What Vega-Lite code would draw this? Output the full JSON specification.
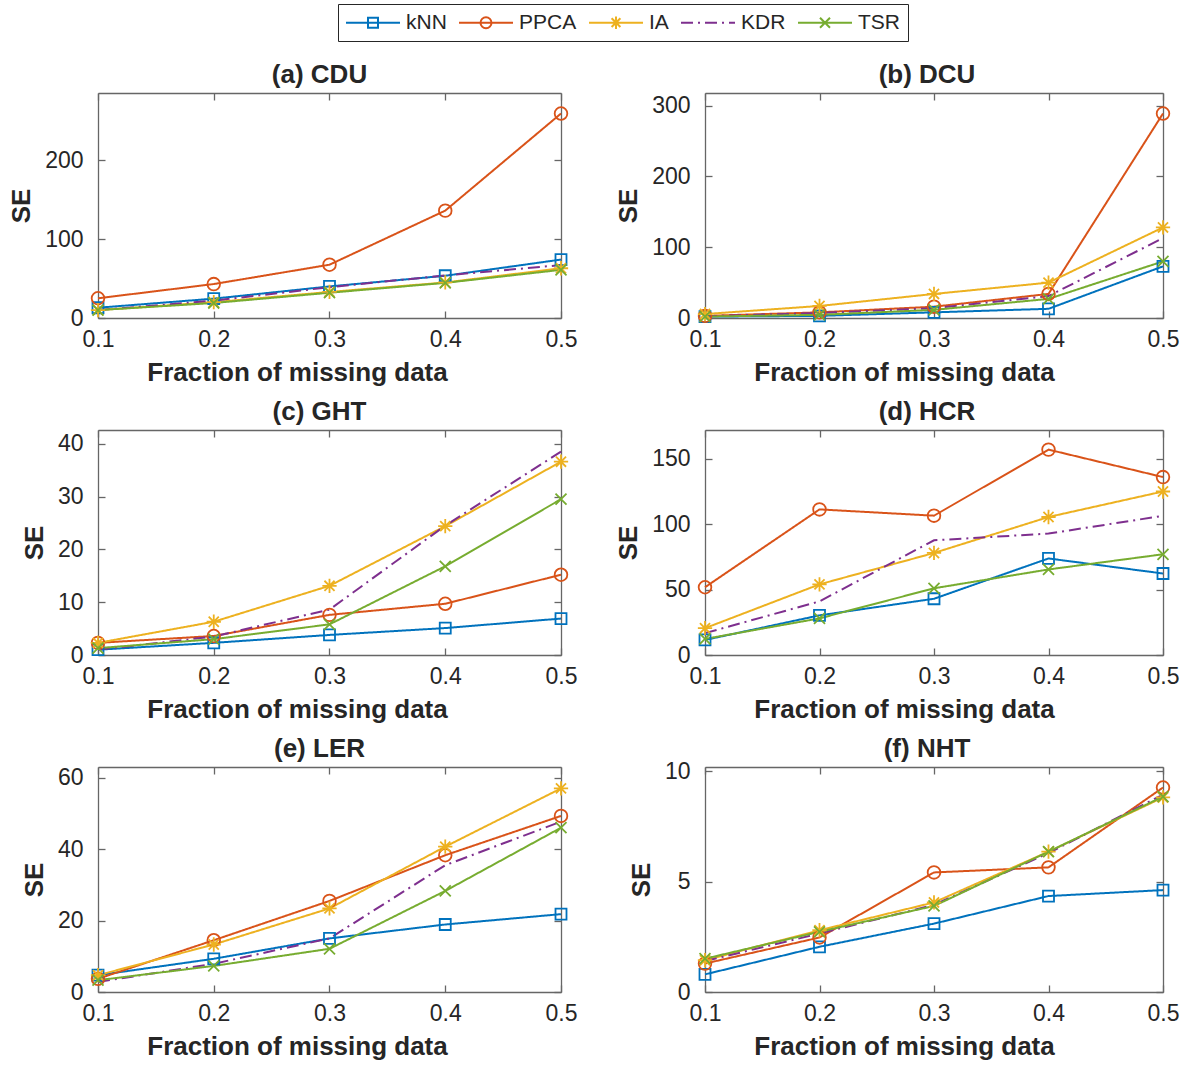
{
"$schema": "https://vega.github.io/schema/vega-lite/v6.json",
"padding": {"left": 8, "top": 3, "right": 5, "bottom": 3},
"background": "white",
"data": {"values": [
{"p":"a","m":"kNN","x":0.1,"y":13},{"p":"a","m":"kNN","x":0.2,"y":24.5},{"p":"a","m":"kNN","x":0.3,"y":40},{"p":"a","m":"kNN","x":0.4,"y":53.5},{"p":"a","m":"kNN","x":0.5,"y":74},
{"p":"a","m":"PPCA","x":0.1,"y":25},{"p":"a","m":"PPCA","x":0.2,"y":43},{"p":"a","m":"PPCA","x":0.3,"y":67.5},{"p":"a","m":"PPCA","x":0.4,"y":136},{"p":"a","m":"PPCA","x":0.5,"y":259},
{"p":"a","m":"IA","x":0.1,"y":10},{"p":"a","m":"IA","x":0.2,"y":20},{"p":"a","m":"IA","x":0.3,"y":33},{"p":"a","m":"IA","x":0.4,"y":45},{"p":"a","m":"IA","x":0.5,"y":63},
{"p":"a","m":"KDR","x":0.1,"y":10},{"p":"a","m":"KDR","x":0.2,"y":22},{"p":"a","m":"KDR","x":0.3,"y":39},{"p":"a","m":"KDR","x":0.4,"y":54},{"p":"a","m":"KDR","x":0.5,"y":67},
{"p":"a","m":"TSR","x":0.1,"y":10},{"p":"a","m":"TSR","x":0.2,"y":19},{"p":"a","m":"TSR","x":0.3,"y":32},{"p":"a","m":"TSR","x":0.4,"y":44.5},{"p":"a","m":"TSR","x":0.5,"y":61},
{"p":"b","m":"kNN","x":0.1,"y":2},{"p":"b","m":"kNN","x":0.2,"y":3},{"p":"b","m":"kNN","x":0.3,"y":8},{"p":"b","m":"kNN","x":0.4,"y":13},{"p":"b","m":"kNN","x":0.5,"y":73},
{"p":"b","m":"PPCA","x":0.1,"y":3},{"p":"b","m":"PPCA","x":0.2,"y":8},{"p":"b","m":"PPCA","x":0.3,"y":16},{"p":"b","m":"PPCA","x":0.4,"y":34},{"p":"b","m":"PPCA","x":0.5,"y":289},
{"p":"b","m":"IA","x":0.1,"y":5.6},{"p":"b","m":"IA","x":0.2,"y":17},{"p":"b","m":"IA","x":0.3,"y":34},{"p":"b","m":"IA","x":0.4,"y":50},{"p":"b","m":"IA","x":0.5,"y":128},
{"p":"b","m":"KDR","x":0.1,"y":2.5},{"p":"b","m":"KDR","x":0.2,"y":7},{"p":"b","m":"KDR","x":0.3,"y":14},{"p":"b","m":"KDR","x":0.4,"y":31},{"p":"b","m":"KDR","x":0.5,"y":113},
{"p":"b","m":"TSR","x":0.1,"y":2},{"p":"b","m":"TSR","x":0.2,"y":4.5},{"p":"b","m":"TSR","x":0.3,"y":11.5},{"p":"b","m":"TSR","x":0.4,"y":27},{"p":"b","m":"TSR","x":0.5,"y":80},
{"p":"c","m":"kNN","x":0.1,"y":1.0},{"p":"c","m":"kNN","x":0.2,"y":2.3},{"p":"c","m":"kNN","x":0.3,"y":3.8},{"p":"c","m":"kNN","x":0.4,"y":5.1},{"p":"c","m":"kNN","x":0.5,"y":6.9},
{"p":"c","m":"PPCA","x":0.1,"y":2.3},{"p":"c","m":"PPCA","x":0.2,"y":3.6},{"p":"c","m":"PPCA","x":0.3,"y":7.6},{"p":"c","m":"PPCA","x":0.4,"y":9.7},{"p":"c","m":"PPCA","x":0.5,"y":15.2},
{"p":"c","m":"IA","x":0.1,"y":2.3},{"p":"c","m":"IA","x":0.2,"y":6.3},{"p":"c","m":"IA","x":0.3,"y":13.1},{"p":"c","m":"IA","x":0.4,"y":24.4},{"p":"c","m":"IA","x":0.5,"y":36.6},
{"p":"c","m":"KDR","x":0.1,"y":1.0},{"p":"c","m":"KDR","x":0.2,"y":3.5},{"p":"c","m":"KDR","x":0.3,"y":8.6},{"p":"c","m":"KDR","x":0.4,"y":24.5},{"p":"c","m":"KDR","x":0.5,"y":38.5},
{"p":"c","m":"TSR","x":0.1,"y":1.3},{"p":"c","m":"TSR","x":0.2,"y":3.0},{"p":"c","m":"TSR","x":0.3,"y":5.8},{"p":"c","m":"TSR","x":0.4,"y":16.8},{"p":"c","m":"TSR","x":0.5,"y":29.5},
{"p":"d","m":"kNN","x":0.1,"y":11.5},{"p":"d","m":"kNN","x":0.2,"y":30.3},{"p":"d","m":"kNN","x":0.3,"y":43},{"p":"d","m":"kNN","x":0.4,"y":73.8},{"p":"d","m":"kNN","x":0.5,"y":62.3},
{"p":"d","m":"PPCA","x":0.1,"y":51.8},{"p":"d","m":"PPCA","x":0.2,"y":111.3},{"p":"d","m":"PPCA","x":0.3,"y":106.5},{"p":"d","m":"PPCA","x":0.4,"y":157},{"p":"d","m":"PPCA","x":0.5,"y":136},
{"p":"d","m":"IA","x":0.1,"y":20.5},{"p":"d","m":"IA","x":0.2,"y":54},{"p":"d","m":"IA","x":0.3,"y":78},{"p":"d","m":"IA","x":0.4,"y":105.5},{"p":"d","m":"IA","x":0.5,"y":125},
{"p":"d","m":"KDR","x":0.1,"y":16.7},{"p":"d","m":"KDR","x":0.2,"y":41},{"p":"d","m":"KDR","x":0.3,"y":87.7},{"p":"d","m":"KDR","x":0.4,"y":92.8},{"p":"d","m":"KDR","x":0.5,"y":106.4},
{"p":"d","m":"TSR","x":0.1,"y":12.3},{"p":"d","m":"TSR","x":0.2,"y":28},{"p":"d","m":"TSR","x":0.3,"y":51},{"p":"d","m":"TSR","x":0.4,"y":65.4},{"p":"d","m":"TSR","x":0.5,"y":77},
{"p":"e","m":"kNN","x":0.1,"y":4.7},{"p":"e","m":"kNN","x":0.2,"y":9.3},{"p":"e","m":"kNN","x":0.3,"y":15},{"p":"e","m":"kNN","x":0.4,"y":18.9},{"p":"e","m":"kNN","x":0.5,"y":21.8},
{"p":"e","m":"PPCA","x":0.1,"y":3.7},{"p":"e","m":"PPCA","x":0.2,"y":14.5},{"p":"e","m":"PPCA","x":0.3,"y":25.5},{"p":"e","m":"PPCA","x":0.4,"y":38.3},{"p":"e","m":"PPCA","x":0.5,"y":49.3},
{"p":"e","m":"IA","x":0.1,"y":4.7},{"p":"e","m":"IA","x":0.2,"y":13.3},{"p":"e","m":"IA","x":0.3,"y":23.4},{"p":"e","m":"IA","x":0.4,"y":40.7},{"p":"e","m":"IA","x":0.5,"y":57},
{"p":"e","m":"KDR","x":0.1,"y":2.8},{"p":"e","m":"KDR","x":0.2,"y":7.9},{"p":"e","m":"KDR","x":0.3,"y":15},{"p":"e","m":"KDR","x":0.4,"y":35.5},{"p":"e","m":"KDR","x":0.5,"y":47.7},
{"p":"e","m":"TSR","x":0.1,"y":3.3},{"p":"e","m":"TSR","x":0.2,"y":7.3},{"p":"e","m":"TSR","x":0.3,"y":12.1},{"p":"e","m":"TSR","x":0.4,"y":28.3},{"p":"e","m":"TSR","x":0.5,"y":46},
{"p":"f","m":"kNN","x":0.1,"y":0.8},{"p":"f","m":"kNN","x":0.2,"y":2.05},{"p":"f","m":"kNN","x":0.3,"y":3.1},{"p":"f","m":"kNN","x":0.4,"y":4.35},{"p":"f","m":"kNN","x":0.5,"y":4.62},
{"p":"f","m":"PPCA","x":0.1,"y":1.29},{"p":"f","m":"PPCA","x":0.2,"y":2.47},{"p":"f","m":"PPCA","x":0.3,"y":5.42},{"p":"f","m":"PPCA","x":0.4,"y":5.65},{"p":"f","m":"PPCA","x":0.5,"y":9.27},
{"p":"f","m":"IA","x":0.1,"y":1.44},{"p":"f","m":"IA","x":0.2,"y":2.8},{"p":"f","m":"IA","x":0.3,"y":4.06},{"p":"f","m":"IA","x":0.4,"y":6.36},{"p":"f","m":"IA","x":0.5,"y":8.82},
{"p":"f","m":"KDR","x":0.1,"y":1.4},{"p":"f","m":"KDR","x":0.2,"y":2.65},{"p":"f","m":"KDR","x":0.3,"y":3.95},{"p":"f","m":"KDR","x":0.4,"y":6.3},{"p":"f","m":"KDR","x":0.5,"y":8.95},
{"p":"f","m":"TSR","x":0.1,"y":1.51},{"p":"f","m":"TSR","x":0.2,"y":2.73},{"p":"f","m":"TSR","x":0.3,"y":3.9},{"p":"f","m":"TSR","x":0.4,"y":6.36},{"p":"f","m":"TSR","x":0.5,"y":8.86}
]},
"vconcat": [
{
 "width": 1100, "height": 1,
 "transform": [{"filter": "datum.p == 'a' && datum.x == 0.1"}],
 "mark": {"type": "point", "filled": false, "opacity": 0, "size": 100},
 "encoding": {
  "color": {"field": "m", "type": "nominal", "scale": {"domain": ["kNN","PPCA","IA","KDR","TSR"], "range": ["#0072BD","#D95319","#EDB120","#7E2F8E","#77AC30"]},
   "legend": {"orient": "none", "legendX": 240, "legendY": -5, "direction": "horizontal", "title": null, "symbolOpacity": 1, "symbolStrokeWidth": 2, "symbolFillColor": "transparent", "symbolSize": 100, "labelFontSize": 21, "labelFont": "Liberation Sans", "labelColor": "#262626", "labelOffset": 39, "columnPadding": 8, "padding": 8, "strokeColor": "#262626", "fillColor": "white"}},
  "shape": {"field": "m", "type": "nominal", "scale": {"domain": ["kNN","PPCA","IA","KDR","TSR"], "range": [
    "M-2.1,0L8.7,0M2.3,-1L4.3,-1L4.3,1L2.3,1Z",
    "M-2.1,0L8.7,0M4.4,0A1.1,1.1 0 1,1 2.2,0A1.1,1.1 0 1,1 4.4,0Z",
    "M-2.1,0L8.7,0M3.3,-1.25L3.3,1.25M2.42,-0.88L4.18,0.88M2.42,0.88L4.18,-0.88",
    "M-2.1,0L0.3,0M1.3,0L1.7,0M2.7,0L5.1,0M6.1,0L6.5,0M7.5,0L8.7,0",
    "M-2.1,0L8.7,0M2.3,-1L4.3,1M2.3,1L4.3,-1"]},
   "legend": {"orient": "none", "legendX": 240, "legendY": -5, "direction": "horizontal", "title": null, "symbolOpacity": 1, "symbolStrokeWidth": 2, "symbolFillColor": "transparent", "symbolSize": 100, "labelFontSize": 21, "labelFont": "Liberation Sans", "labelColor": "#262626", "labelOffset": 39, "columnPadding": 8, "padding": 8, "strokeColor": "#262626", "fillColor": "white"}}
 }
},
{
 "columns": 2,
 "spacing": {"row": 14, "column": 38},
 "concat": [
  {"title": {"text": "(a) CDU", "frame": "group", "dx": -10}, "width": 463, "height": 225,
   "transform": [{"filter": "datum.p == 'a'"}],
   "layer": [
    {"mark": {"type": "line", "strokeWidth": 2}, "encoding": {
      "x": {"field": "x", "type": "quantitative", "scale": {"domain": [0.1, 0.5], "nice": false}, "axis": {"values": [0.1,0.2,0.3,0.4,0.5], "format": ".1f", "title": "Fraction of missing data", "titleX": 199}},
      "y": {"field": "y", "type": "quantitative", "scale": {"domain": [0, 285], "nice": false}, "axis": {"values": [0,100,200], "title": "SE"}},
      "color": {"field": "m", "type": "nominal", "scale": {"domain": ["kNN","PPCA","IA","KDR","TSR"], "range": ["#0072BD","#D95319","#EDB120","#7E2F8E","#77AC30"]}, "legend": null},
      "strokeDash": {"field": "m", "type": "nominal", "scale": {"domain": ["kNN","PPCA","IA","KDR","TSR"], "range": [[1,0],[1,0],[1,0],[12,5,2,5],[1,0]]}, "legend": null}}},
    {"mark": {"type": "point", "filled": false, "size": 121, "strokeWidth": 1.8, "opacity": 1}, "encoding": {
      "x": {"field": "x", "type": "quantitative", "axis": {"orient": "top", "labels": false, "title": null, "values": [0.1,0.2,0.3,0.4,0.5]}},
      "y": {"field": "y", "type": "quantitative", "axis": {"orient": "right", "labels": false, "title": null, "values": [0,100,200]}},
      "color": {"field": "m", "type": "nominal", "legend": null},
      "shape": {"field": "m", "type": "nominal", "scale": {"domain": ["kNN","PPCA","IA","KDR","TSR"], "range": ["M-1,-1L1,-1L1,1L-1,1Z","M1.15,0A1.15,1.15 0 1,1 -1.15,0A1.15,1.15 0 1,1 1.15,0Z","M0,-1.3L0,1.3M-1.3,0L1.3,0M-0.92,-0.92L0.92,0.92M-0.92,0.92L0.92,-0.92","M0,0","M-1,-1L1,1M-1,1L1,-1"]}, "legend": null}}}
   ],
   "resolve": {"axis": {"x": "independent", "y": "independent"}}
  },
  {"title": {"text": "(b) DCU", "frame": "group", "dx": -7}, "width": 458, "height": 225,
   "transform": [{"filter": "datum.p == 'b'"}],
   "layer": [
    {"mark": {"type": "line", "strokeWidth": 2}, "encoding": {
      "x": {"field": "x", "type": "quantitative", "scale": {"domain": [0.1, 0.5], "nice": false}, "axis": {"values": [0.1,0.2,0.3,0.4,0.5], "format": ".1f", "title": "Fraction of missing data", "titleX": 199}},
      "y": {"field": "y", "type": "quantitative", "scale": {"domain": [0, 318], "nice": false}, "axis": {"values": [0,100,200,300], "title": "SE"}},
      "color": {"field": "m", "type": "nominal", "scale": {"domain": ["kNN","PPCA","IA","KDR","TSR"], "range": ["#0072BD","#D95319","#EDB120","#7E2F8E","#77AC30"]}, "legend": null},
      "strokeDash": {"field": "m", "type": "nominal", "scale": {"domain": ["kNN","PPCA","IA","KDR","TSR"], "range": [[1,0],[1,0],[1,0],[12,5,2,5],[1,0]]}, "legend": null}}},
    {"mark": {"type": "point", "filled": false, "size": 121, "strokeWidth": 1.8, "opacity": 1}, "encoding": {
      "x": {"field": "x", "type": "quantitative", "axis": {"orient": "top", "labels": false, "title": null, "values": [0.1,0.2,0.3,0.4,0.5]}},
      "y": {"field": "y", "type": "quantitative", "axis": {"orient": "right", "labels": false, "title": null, "values": [0,100,200,300]}},
      "color": {"field": "m", "type": "nominal", "legend": null},
      "shape": {"field": "m", "type": "nominal", "scale": {"domain": ["kNN","PPCA","IA","KDR","TSR"], "range": ["M-1,-1L1,-1L1,1L-1,1Z","M1.15,0A1.15,1.15 0 1,1 -1.15,0A1.15,1.15 0 1,1 1.15,0Z","M0,-1.3L0,1.3M-1.3,0L1.3,0M-0.92,-0.92L0.92,0.92M-0.92,0.92L0.92,-0.92","M0,0","M-1,-1L1,1M-1,1L1,-1"]}, "legend": null}}}
   ],
   "resolve": {"axis": {"x": "independent", "y": "independent"}}
  },
  {"title": {"text": "(c) GHT", "frame": "group", "dx": -10}, "width": 463, "height": 225,
   "transform": [{"filter": "datum.p == 'c'"}],
   "layer": [
    {"mark": {"type": "line", "strokeWidth": 2}, "encoding": {
      "x": {"field": "x", "type": "quantitative", "scale": {"domain": [0.1, 0.5], "nice": false}, "axis": {"values": [0.1,0.2,0.3,0.4,0.5], "format": ".1f", "title": "Fraction of missing data", "titleX": 199}},
      "y": {"field": "y", "type": "quantitative", "scale": {"domain": [0, 42.6], "nice": false}, "axis": {"values": [0,10,20,30,40], "title": "SE"}},
      "color": {"field": "m", "type": "nominal", "scale": {"domain": ["kNN","PPCA","IA","KDR","TSR"], "range": ["#0072BD","#D95319","#EDB120","#7E2F8E","#77AC30"]}, "legend": null},
      "strokeDash": {"field": "m", "type": "nominal", "scale": {"domain": ["kNN","PPCA","IA","KDR","TSR"], "range": [[1,0],[1,0],[1,0],[12,5,2,5],[1,0]]}, "legend": null}}},
    {"mark": {"type": "point", "filled": false, "size": 121, "strokeWidth": 1.8, "opacity": 1}, "encoding": {
      "x": {"field": "x", "type": "quantitative", "axis": {"orient": "top", "labels": false, "title": null, "values": [0.1,0.2,0.3,0.4,0.5]}},
      "y": {"field": "y", "type": "quantitative", "axis": {"orient": "right", "labels": false, "title": null, "values": [0,10,20,30,40]}},
      "color": {"field": "m", "type": "nominal", "legend": null},
      "shape": {"field": "m", "type": "nominal", "scale": {"domain": ["kNN","PPCA","IA","KDR","TSR"], "range": ["M-1,-1L1,-1L1,1L-1,1Z","M1.15,0A1.15,1.15 0 1,1 -1.15,0A1.15,1.15 0 1,1 1.15,0Z","M0,-1.3L0,1.3M-1.3,0L1.3,0M-0.92,-0.92L0.92,0.92M-0.92,0.92L0.92,-0.92","M0,0","M-1,-1L1,1M-1,1L1,-1"]}, "legend": null}}}
   ],
   "resolve": {"axis": {"x": "independent", "y": "independent"}}
  },
  {"title": {"text": "(d) HCR", "frame": "group", "dx": -7}, "width": 458, "height": 225,
   "transform": [{"filter": "datum.p == 'd'"}],
   "layer": [
    {"mark": {"type": "line", "strokeWidth": 2}, "encoding": {
      "x": {"field": "x", "type": "quantitative", "scale": {"domain": [0.1, 0.5], "nice": false}, "axis": {"values": [0.1,0.2,0.3,0.4,0.5], "format": ".1f", "title": "Fraction of missing data", "titleX": 199}},
      "y": {"field": "y", "type": "quantitative", "scale": {"domain": [0, 172], "nice": false}, "axis": {"values": [0,50,100,150], "title": "SE"}},
      "color": {"field": "m", "type": "nominal", "scale": {"domain": ["kNN","PPCA","IA","KDR","TSR"], "range": ["#0072BD","#D95319","#EDB120","#7E2F8E","#77AC30"]}, "legend": null},
      "strokeDash": {"field": "m", "type": "nominal", "scale": {"domain": ["kNN","PPCA","IA","KDR","TSR"], "range": [[1,0],[1,0],[1,0],[12,5,2,5],[1,0]]}, "legend": null}}},
    {"mark": {"type": "point", "filled": false, "size": 121, "strokeWidth": 1.8, "opacity": 1}, "encoding": {
      "x": {"field": "x", "type": "quantitative", "axis": {"orient": "top", "labels": false, "title": null, "values": [0.1,0.2,0.3,0.4,0.5]}},
      "y": {"field": "y", "type": "quantitative", "axis": {"orient": "right", "labels": false, "title": null, "values": [0,50,100,150]}},
      "color": {"field": "m", "type": "nominal", "legend": null},
      "shape": {"field": "m", "type": "nominal", "scale": {"domain": ["kNN","PPCA","IA","KDR","TSR"], "range": ["M-1,-1L1,-1L1,1L-1,1Z","M1.15,0A1.15,1.15 0 1,1 -1.15,0A1.15,1.15 0 1,1 1.15,0Z","M0,-1.3L0,1.3M-1.3,0L1.3,0M-0.92,-0.92L0.92,0.92M-0.92,0.92L0.92,-0.92","M0,0","M-1,-1L1,1M-1,1L1,-1"]}, "legend": null}}}
   ],
   "resolve": {"axis": {"x": "independent", "y": "independent"}}
  },
  {"title": {"text": "(e) LER", "frame": "group", "dx": -10}, "width": 463, "height": 225,
   "transform": [{"filter": "datum.p == 'e'"}],
   "layer": [
    {"mark": {"type": "line", "strokeWidth": 2}, "encoding": {
      "x": {"field": "x", "type": "quantitative", "scale": {"domain": [0.1, 0.5], "nice": false}, "axis": {"values": [0.1,0.2,0.3,0.4,0.5], "format": ".1f", "title": "Fraction of missing data", "titleX": 199}},
      "y": {"field": "y", "type": "quantitative", "scale": {"domain": [0, 63], "nice": false}, "axis": {"values": [0,20,40,60], "title": "SE"}},
      "color": {"field": "m", "type": "nominal", "scale": {"domain": ["kNN","PPCA","IA","KDR","TSR"], "range": ["#0072BD","#D95319","#EDB120","#7E2F8E","#77AC30"]}, "legend": null},
      "strokeDash": {"field": "m", "type": "nominal", "scale": {"domain": ["kNN","PPCA","IA","KDR","TSR"], "range": [[1,0],[1,0],[1,0],[12,5,2,5],[1,0]]}, "legend": null}}},
    {"mark": {"type": "point", "filled": false, "size": 121, "strokeWidth": 1.8, "opacity": 1}, "encoding": {
      "x": {"field": "x", "type": "quantitative", "axis": {"orient": "top", "labels": false, "title": null, "values": [0.1,0.2,0.3,0.4,0.5]}},
      "y": {"field": "y", "type": "quantitative", "axis": {"orient": "right", "labels": false, "title": null, "values": [0,20,40,60]}},
      "color": {"field": "m", "type": "nominal", "legend": null},
      "shape": {"field": "m", "type": "nominal", "scale": {"domain": ["kNN","PPCA","IA","KDR","TSR"], "range": ["M-1,-1L1,-1L1,1L-1,1Z","M1.15,0A1.15,1.15 0 1,1 -1.15,0A1.15,1.15 0 1,1 1.15,0Z","M0,-1.3L0,1.3M-1.3,0L1.3,0M-0.92,-0.92L0.92,0.92M-0.92,0.92L0.92,-0.92","M0,0","M-1,-1L1,1M-1,1L1,-1"]}, "legend": null}}}
   ],
   "resolve": {"axis": {"x": "independent", "y": "independent"}}
  },
  {"title": {"text": "(f) NHT", "frame": "group", "dx": -7, "offset": -2}, "width": 458, "height": 225,
   "transform": [{"filter": "datum.p == 'f'"}],
   "layer": [
    {"mark": {"type": "line", "strokeWidth": 2}, "encoding": {
      "x": {"field": "x", "type": "quantitative", "scale": {"domain": [0.1, 0.5], "nice": false}, "axis": {"values": [0.1,0.2,0.3,0.4,0.5], "format": ".1f", "title": "Fraction of missing data", "titleX": 199}},
      "y": {"field": "y", "type": "quantitative", "scale": {"domain": [0, 10.2], "nice": false}, "axis": {"values": [0,5,10], "title": "SE"}},
      "color": {"field": "m", "type": "nominal", "scale": {"domain": ["kNN","PPCA","IA","KDR","TSR"], "range": ["#0072BD","#D95319","#EDB120","#7E2F8E","#77AC30"]}, "legend": null},
      "strokeDash": {"field": "m", "type": "nominal", "scale": {"domain": ["kNN","PPCA","IA","KDR","TSR"], "range": [[1,0],[1,0],[1,0],[12,5,2,5],[1,0]]}, "legend": null}}},
    {"mark": {"type": "point", "filled": false, "size": 121, "strokeWidth": 1.8, "opacity": 1}, "encoding": {
      "x": {"field": "x", "type": "quantitative", "axis": {"orient": "top", "labels": false, "title": null, "values": [0.1,0.2,0.3,0.4,0.5]}},
      "y": {"field": "y", "type": "quantitative", "axis": {"orient": "right", "labels": false, "title": null, "values": [0,5,10]}},
      "color": {"field": "m", "type": "nominal", "legend": null},
      "shape": {"field": "m", "type": "nominal", "scale": {"domain": ["kNN","PPCA","IA","KDR","TSR"], "range": ["M-1,-1L1,-1L1,1L-1,1Z","M1.15,0A1.15,1.15 0 1,1 -1.15,0A1.15,1.15 0 1,1 1.15,0Z","M0,-1.3L0,1.3M-1.3,0L1.3,0M-0.92,-0.92L0.92,0.92M-0.92,0.92L0.92,-0.92","M0,0","M-1,-1L1,1M-1,1L1,-1"]}, "legend": null}}}
   ],
   "resolve": {"axis": {"x": "independent", "y": "independent"}}
  }
 ]
}
],
"spacing": 20,
"resolve": {"scale": {"color": "independent", "shape": "independent", "strokeDash": "independent"}},
"config": {
 "view": {"stroke": null},
 "font": "Liberation Sans",
 "axis": {"grid": false, "domainColor": "#666666", "domainWidth": 1.3, "tickColor": "#666666", "tickWidth": 1.3, "tickSize": -7, "labelFont": "Liberation Sans", "labelFontSize": 23, "labelColor": "#262626", "titleFont": "Liberation Sans", "titleFontSize": 26, "titleFontWeight": "bold", "titleColor": "#262626", "labelFlush": false, "labelOverlap": false, "labelBound": false},
 "axisX": {"labelPadding": 17, "titlePadding": 8},
 "axisY": {"labelPadding": 22, "titlePadding": 10},
 "title": {"fontSize": 26, "fontWeight": "bold", "font": "Liberation Sans", "color": "#262626", "offset": 4}
}
}
